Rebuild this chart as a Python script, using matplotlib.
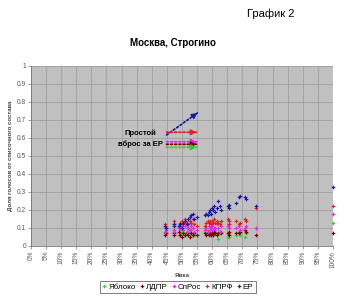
import matplotlib
matplotlib.use("Agg")
import matplotlib.pyplot as plt
import numpy as np

plt.rcParams['font.family'] = ['Liberation Sans', 'DejaVu Sans']

turnout = [0.445, 0.447, 0.472, 0.475, 0.49, 0.495, 0.50, 0.505, 0.51, 0.515,
           0.52, 0.525, 0.53, 0.535, 0.54, 0.55, 0.575, 0.578, 0.585, 0.588,
           0.592, 0.595, 0.60, 0.603, 0.607, 0.61, 0.615, 0.62, 0.625, 0.628,
           0.653, 0.655, 0.657, 0.68, 0.688, 0.692, 0.71, 0.712, 0.745, 1.0]
er = [0.11, 0.10, 0.11, 0.12, 0.11, 0.12, 0.10, 0.13, 0.14, 0.12,
      0.15, 0.16, 0.17, 0.18, 0.15, 0.16, 0.17, 0.18, 0.17, 0.19,
      0.20, 0.18, 0.21, 0.20, 0.22, 0.19, 0.21, 0.25, 0.22, 0.20,
      0.22, 0.23, 0.21, 0.24, 0.27, 0.28, 0.27, 0.26, 0.22, 0.33]
kprf = [0.12, 0.10, 0.14, 0.12, 0.11, 0.13, 0.14, 0.12, 0.15, 0.13,
        0.12, 0.14, 0.13, 0.15, 0.12, 0.11, 0.11, 0.13, 0.14, 0.13,
        0.14, 0.12, 0.14, 0.13, 0.15, 0.13, 0.14, 0.13, 0.12, 0.14,
        0.15, 0.14, 0.12, 0.14, 0.12, 0.13, 0.15, 0.14, 0.21, 0.22]
sr = [0.08, 0.09, 0.09, 0.08, 0.10, 0.10, 0.11, 0.09, 0.11, 0.08,
      0.10, 0.09, 0.11, 0.10, 0.08, 0.09, 0.09, 0.10, 0.08, 0.11,
      0.09, 0.10, 0.11, 0.09, 0.10, 0.10, 0.12, 0.10, 0.08, 0.11,
      0.11, 0.12, 0.10, 0.10, 0.11, 0.09, 0.10, 0.11, 0.10, 0.18]
ldpr = [0.06, 0.07, 0.06, 0.07, 0.08, 0.06, 0.05, 0.07, 0.06, 0.07,
        0.06, 0.05, 0.07, 0.06, 0.07, 0.06, 0.07, 0.06, 0.07, 0.06,
        0.07, 0.06, 0.07, 0.06, 0.08, 0.07, 0.06, 0.07, 0.08, 0.07,
        0.07, 0.08, 0.06, 0.07, 0.07, 0.08, 0.09, 0.08, 0.06, 0.075]
yabloko = [0.07, 0.08, 0.07, 0.09, 0.06, 0.09, 0.07, 0.08, 0.06, 0.10,
           0.08, 0.07, 0.09, 0.06, 0.06, 0.06, 0.08, 0.07, 0.09, 0.07,
           0.10, 0.06, 0.08, 0.07, 0.07, 0.09, 0.07, 0.04, 0.07, 0.08,
           0.05, 0.06, 0.05, 0.06, 0.08, 0.06, 0.05, 0.07, 0.10, 0.13]

series_names = ['Яблоко', 'ЛДПР', 'СпРос', 'КПРФ', 'ЕР']
series_vals = [yabloko, ldpr, sr, kprf, er]
colors = ['#33cc33', '#800000', '#ee22ee', '#e02020', '#1a1aaa']

x_ticks = [i / 20 for i in range(21)]
x_ticklabels = [f'{i * 5}%' for i in range(21)]
y_ticks = [i / 10 for i in range(11)]
y_ticklabels = ['0'] + [f'{i / 10:.1f}' for i in range(1, 10)] + ['1']

fig = plt.figure(figsize=(3.52, 3.0), dpi=100)
ax = fig.add_axes([0.088, 0.18, 0.858, 0.60])
ax.set_facecolor('#c0c0c0')
for name, vals, c in zip(series_names, series_vals, colors):
    ax.plot(turnout, vals, linestyle='none', marker='P', markersize=2.6,
            markeredgewidth=0, color=c, label=name, clip_on=False, zorder=3)

ax.set_xlim(0, 1)
ax.set_ylim(0, 1)
ax.set_xticks(x_ticks)
ax.set_xticklabels(x_ticklabels, rotation=90, fontsize=4.8, color='#555555')
ax.set_yticks(y_ticks)
ax.set_yticklabels(y_ticklabels, fontsize=4.8, color='#555555')
ax.tick_params(length=2, width=0.5, colors='#777777', labelcolor='#555555', pad=1.5)
ax.grid(True, color='#999999', linewidth=0.5)
ax.set_axisbelow(True)
for s in ['top', 'right']:
    ax.spines[s].set_visible(False)
for s in ['left', 'bottom']:
    ax.spines[s].set_color('#777777')
    ax.spines[s].set_linewidth(0.6)

ax.set_ylabel('Доля голосов от списочного состава', fontsize=4.3,
              fontweight='bold', color='#444444', labelpad=3)
ax.set_xlabel('Явка', fontsize=4.5, fontweight='bold', color='#444444', labelpad=4)

# annotation arrows: dotted shaft + solid head
arrows = [((0.551, 0.739), (0.449, 0.617), '#1a1aaa'),
          ((0.548, 0.632), (0.449, 0.632), '#e02020'),
          ((0.548, 0.579), (0.449, 0.579), '#ee22ee'),
          ((0.548, 0.565), (0.449, 0.565), '#800000'),
          ((0.548, 0.548), (0.449, 0.548), '#33cc33')]
for end, start, c in arrows:
    ax.annotate('', xy=end, xytext=start,
                arrowprops=dict(arrowstyle='-', color=c, lw=1.3,
                                linestyle=(0, (1, 1.3)),
                                shrinkA=0, shrinkB=0))
    sx, sy = start
    ex, ey = end
    hx = ex - 0.12 * (ex - sx)
    hy = ey - 0.12 * (ey - sy)
    ax.annotate('', xy=end, xytext=(hx, hy),
                arrowprops=dict(arrowstyle='-|>', color=c, lw=0.8,
                                mutation_scale=9, shrinkA=0, shrinkB=0))
ax.text(0.363, 0.595, 'Простой\nвброс за ЕР', ha='center', va='center',
        fontsize=5.5, fontweight='bold', linespacing=1.5)

fig.text(0.49, 0.857, 'Москва, Строгино', ha='center', va='center',
         fontsize=7, fontweight='bold')
fig.text(0.77, 0.955, 'График 2', ha='center', va='center', fontsize=8)

leg = fig.legend(loc='center', bbox_to_anchor=(0.505, 0.043), ncol=5,
                 fontsize=5.8, frameon=True, fancybox=False, handlelength=0.5,
                 handletextpad=0.25, columnspacing=0.5, borderpad=0.3,
                 markerscale=1.0)
leg.get_frame().set_edgecolor('#444444')
leg.get_frame().set_linewidth(0.6)

fig.savefig('out.png', dpi=100)
